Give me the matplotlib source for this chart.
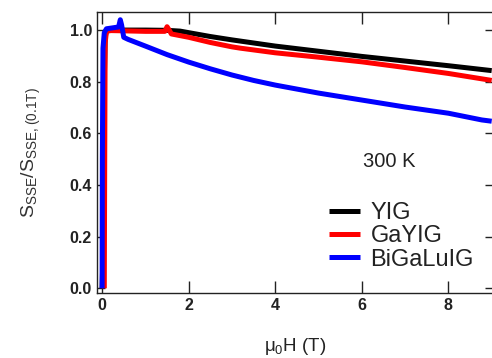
import matplotlib
matplotlib.use("Agg")
import matplotlib.pyplot as plt

plt.rcParams['font.family'] = ['Liberation Sans', 'DejaVu Sans']
plt.rcParams['mathtext.fontset'] = 'custom'
plt.rcParams['mathtext.rm'] = 'Liberation Sans'

# YIG
x_yig = [0.0, 0.03, 0.05, 0.07, 0.1, 0.5, 1.0, 1.5, 1.8, 2.0, 2.5, 3.0, 4.0, 5.0, 6.0, 7.0, 8.0, 9.0]
y_yig = [0.0, 0.2, 0.8, 0.97, 1.0, 1.0, 1.0, 0.999, 0.996, 0.99, 0.975, 0.962, 0.938, 0.918, 0.898, 0.88, 0.862, 0.843]
# GaYIG
x_ga = [0.05, 0.06, 0.07, 0.1, 0.2, 0.5, 1.0, 1.45, 1.5, 1.55, 1.6, 2.0, 2.5, 3.0, 3.19, 4.0, 5.0, 6.0, 7.0, 8.0, 9.0]
y_ga = [0.0, 0.5, 0.95, 0.995, 0.998, 0.997, 0.995, 0.995, 1.013, 1.0, 0.985, 0.972, 0.952, 0.935, 0.93, 0.912, 0.895, 0.877, 0.855, 0.832, 0.805]
# BiGaLuIG
x_bi = [0.0, 0.005, 0.02, 0.05, 0.1, 0.3, 0.38, 0.42, 0.45, 0.5, 0.6, 1.0, 1.5, 2.0, 2.5, 3.0, 3.5, 4.0, 5.0, 6.0, 7.0, 8.0, 8.77, 9.0]
y_bi = [0.0, 0.5, 0.93, 0.99, 1.005, 1.01, 1.012, 1.04, 1.02, 0.972, 0.964, 0.938, 0.905, 0.876, 0.85, 0.826, 0.805, 0.787, 0.756, 0.729, 0.702, 0.678, 0.652, 0.647]

labels = ['YIG', 'GaYIG', 'BiGaLuIG']
colors = ['black', 'red', 'blue']

fig = plt.figure(figsize=(4.92, 3.58), dpi=100)
ax = fig.add_axes([0.197, 0.1824, 0.805, 0.7841])

for xs, ys, lab, c in zip([x_yig, x_ga, x_bi], [y_yig, y_ga, y_bi], labels, colors):
    ax.plot(xs, ys, color=c, lw=3.6, label=lab, solid_capstyle='butt')

ax.set_xlim(-0.12, 9.03)
ax.set_ylim(-0.017, 1.07)
ax.set_xticks([0, 2, 4, 6, 8])
ax.set_yticks([0.0, 0.2, 0.4, 0.6, 0.8, 1.0])
ax.set_yticklabels(['0.0', '0.2', '0.4', '0.6', '0.8', '1.0'])
ax.tick_params(axis='both', direction='in', top=True, right=True, width=1.0, colors='#222222')
ax.tick_params(axis='x', length=8.5)
ax.tick_params(axis='y', length=6)
for lab in ax.get_xticklabels() + ax.get_yticklabels():
    lab.set_fontweight('bold')
    lab.set_fontsize(11.5)
    lab.set_color('#222222')
for s in ax.spines.values():
    s.set_linewidth(1.0)
    s.set_color('#222222')

ax.set_xlabel(r'$\mathregular{\mu_0}$H (T)', fontsize=13.5, color='#222222', labelpad=17)
ax.set_ylabel(r'$\mathregular{S_{SSE}/S_{SSE,(0.1T)}}$', fontsize=14, color='#333333', labelpad=19)

ax.text(0.673, 0.448, '300 K', transform=ax.transAxes, fontsize=14.5, color='#222222',
        va='baseline')

leg = ax.legend(loc='lower left', bbox_to_anchor=(0.545, 0.02), frameon=False,
                fontsize=17, handlelength=1.3, handletextpad=0.45, labelspacing=0.05,
                borderpad=0.2)
for t in leg.get_texts():
    t.set_color('#222222')

fig.savefig('out.png', dpi=100)
